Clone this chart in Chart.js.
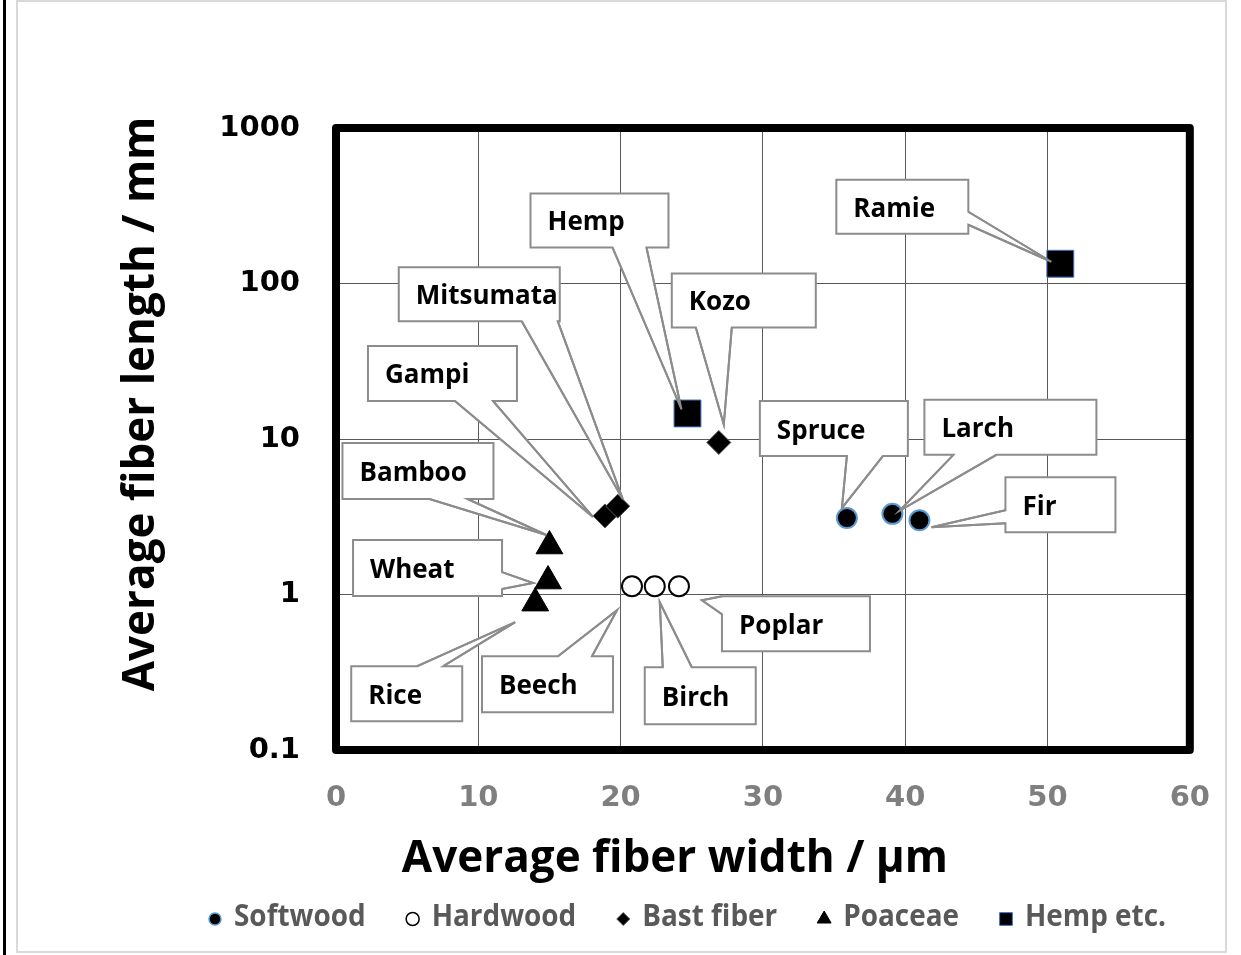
<!DOCTYPE html>
<html>
<head>
<meta charset="utf-8">
<script src="https://cdn.jsdelivr.net/npm/chart.js@4"></script>
<style>
  body { margin: 0; background: #fff; }
  #wrap { width: 1241px; height: 955px; }
</style>
</head>
<body>
<div id="wrap"><canvas id="myChart" width="1241" height="955"></canvas></div>
<script>
// values (x: width in um, y: length in mm)
const seriesNames = ['Softwood', 'Hardwood', 'Bast fiber', 'Poaceae', 'Hemp etc.'];

const softwoodNames = ['Spruce', 'Larch', 'Fir'];
const softwoodWidth = [35.9, 39.1, 41.0];
const softwoodLength = [3.1, 3.3, 3.0];

const hardwoodNames = ['Beech', 'Birch', 'Poplar'];
const hardwoodWidth = [20.8, 22.4, 24.1];
const hardwoodLength = [1.13, 1.13, 1.13];

const bastNames = ['Gampi', 'Mitsumata', 'Kozo'];
const bastWidth = [18.9, 19.8, 26.9];
const bastLength = [3.2, 3.7, 9.5];

const poaceaeNames = ['Rice', 'Wheat', 'Bamboo'];
const poaceaeWidth = [14.0, 14.9, 15.0];
const poaceaeLength = [0.88, 1.22, 2.05];

const hempNames = ['Hemp', 'Ramie'];
const hempWidth = [24.7, 50.9];
const hempLength = [14.6, 134];

const xTicks = [0, 10, 20, 30, 40, 50, 60];
const yTicks = [0.1, 1, 10, 100, 1000];
const yTickLabels = ['0.1', '1', '10', '100', '1000'];

const xTitle = 'Average fiber width / μm';
const yTitle = 'Average fiber length / mm';

// callout boxes: offset of box from the point, box size, wedge side + base positions, tip offset
const callouts = {
  Ramie:     { dx: -224, dy: -84,  w: 132, h: 54, side: 'right',  a: 32, b: 45,  tx: -9,  ty: -2 },
  Hemp:      { dx: -157, dy: -220, w: 138, h: 54, side: 'bottom', a: 82, b: 116, tx: -6,  ty: -4 },
  Kozo:      { dx: -47,  dy: -169, w: 144, h: 54, side: 'bottom', a: 24, b: 60,  tx: 5,   ty: -18 },
  Mitsumata: { dx: -219, dy: -239, w: 161, h: 54, side: 'bottom', a: 123, b: 159, tx: 5,  ty: -7 },
  Gampi:     { dx: -237, dy: -170, w: 149, h: 55, side: 'bottom', a: 87, b: 125, tx: -12, ty: 1 },
  Bamboo:    { dx: -207, dy: -103, w: 151, h: 56, side: 'bottom', a: 87, b: 125, tx: -3,  ty: -11 },
  Wheat:     { dx: -195, dy: -41,  w: 149, h: 56, side: 'right',  a: 32, b: 49,  tx: -15, ty: 2 },
  Rice:      { dx: -184, dy: 63,   w: 111, h: 55, side: 'top',    a: 66, b: 92,  tx: -20, ty: 19 },
  Beech:     { dx: -150, dy: 70,   w: 131, h: 56, side: 'top',    a: 76, b: 110, tx: -15, ty: 24 },
  Birch:     { dx: -10,  dy: 81,   w: 111, h: 57, side: 'top',    a: 18, b: 47,  tx: 5,   ty: 16 },
  Poplar:    { dx: 43,   dy: 10,   w: 148, h: 55, side: 'left',   a: 0,  b: 18,  tx: 23,  ty: 14 },
  Spruce:    { dx: -87,  dy: -117, w: 148, h: 55, side: 'bottom', a: 87, b: 123, tx: -5,  ty: -10 },
  Larch:     { dx: 32,   dy: -114, w: 172, h: 55, side: 'bottom', a: 29, b: 72,  tx: 7,   ty: -3 },
  Fir:       { dx: 86,   dy: -43,  w: 110, h: 55, side: 'left',   a: 33, b: 46,  tx: 12,  ty: 7 }
};

function pts(xs, ys) {
  return xs.map((x, i) => ({ x: x, y: ys[i] }));
}

function calloutPath(ctx, px, py, c) {
  const L = px + c.dx, T = py + c.dy, R = L + c.w, B = T + c.h;
  const tx = px + c.tx, ty = py + c.ty;
  ctx.beginPath();
  ctx.moveTo(L, T);
  if (c.side === 'top') { ctx.lineTo(L + c.a, T); ctx.lineTo(tx, ty); ctx.lineTo(L + c.b, T); }
  ctx.lineTo(R, T);
  if (c.side === 'right') { ctx.lineTo(R, T + c.a); ctx.lineTo(tx, ty); ctx.lineTo(R, T + c.b); }
  ctx.lineTo(R, B);
  if (c.side === 'bottom') { ctx.lineTo(L + c.b, B); ctx.lineTo(tx, ty); ctx.lineTo(L + c.a, B); }
  ctx.lineTo(L, B);
  if (c.side === 'left') { ctx.lineTo(L, T + c.b); ctx.lineTo(tx, ty); ctx.lineTo(L, T + c.a); }
  ctx.closePath();
}

function wedgeBase(px, py, c) {
  const L = px + c.dx, T = py + c.dy;
  if (c.side === 'top') return [[L + c.a, T], [L + c.b, T]];
  if (c.side === 'bottom') return [[L + c.a, T + c.h], [L + c.b, T + c.h]];
  if (c.side === 'left') return [[L, T + c.a], [L, T + c.b]];
  return [[L + c.w, T + c.a], [L + c.w, T + c.b]];
}

function eachLabel(chart, fn) {
  chart.data.datasets.forEach((ds, i) => {
    chart.getDatasetMeta(i).data.forEach((el, j) => {
      const c = callouts[ds.names[j]];
      if (c) fn(ds.names[j], el.x, el.y, c);
    });
  });
}

const framePlugin = {
  id: 'frame',
  beforeDraw(chart) {
    const ctx = chart.ctx;
    ctx.save();
    ctx.fillStyle = '#fff';
    ctx.fillRect(0, 0, chart.width, chart.height);
    ctx.strokeStyle = '#d9d9d9';
    ctx.lineWidth = 2;
    ctx.strokeRect(17, 1, 1209, 951);
    ctx.strokeStyle = '#000';
    ctx.lineWidth = 3;
    ctx.beginPath();
    ctx.moveTo(4.5, 0);
    ctx.lineTo(4.5, chart.height);
    ctx.stroke();
    ctx.restore();
  }
};

const calloutPlugin = {
  id: 'callouts',
  beforeDatasetsDraw(chart) {
    const ctx = chart.ctx;
    const a = chart.chartArea;
    ctx.save();
    // thick plot border
    ctx.strokeStyle = '#000';
    ctx.lineWidth = 8;
    ctx.lineJoin = 'round';
    ctx.strokeRect(a.left, a.top, a.right - a.left, a.bottom - a.top);
    // label boxes
    ctx.lineWidth = 2;
    ctx.lineJoin = 'miter';
    ctx.strokeStyle = '#8c8c8c';
    ctx.fillStyle = '#fff';
    eachLabel(chart, (name, px, py, c) => {
      calloutPath(ctx, px, py, c);
      ctx.fill();
      ctx.stroke();
    });
    ctx.fillStyle = '#000';
    ctx.font = 'bold 26px "Open Sans"';
    ctx.textAlign = 'left';
    ctx.textBaseline = 'alphabetic';
    eachLabel(chart, (name, px, py, c) => {
      ctx.fillText(name, px + c.dx + 17, py + c.dy + c.h / 2 + 10);
    });
    ctx.restore();
  },
  afterDatasetsDraw(chart) {
    const ctx = chart.ctx;
    ctx.save();
    ctx.strokeStyle = '#8c8c8c';
    ctx.lineWidth = 2;
    eachLabel(chart, (name, px, py, c) => {
      const base = wedgeBase(px, py, c);
      ctx.beginPath();
      ctx.moveTo(base[0][0], base[0][1]);
      ctx.lineTo(px + c.tx, py + c.ty);
      ctx.lineTo(base[1][0], base[1][1]);
      ctx.stroke();
    });
    ctx.restore();
  }
};

const titlePlugin = {
  id: 'titles',
  afterDraw(chart) {
    const ctx = chart.ctx;
    const a = chart.chartArea;
    ctx.save();
    ctx.fillStyle = '#000';
    ctx.font = 'bold 44px "Open Sans"';
    ctx.textAlign = 'center';
    ctx.textBaseline = 'alphabetic';
    ctx.fillText(xTitle, a.left + (a.right - a.left) / 2 - 88, 872);
    ctx.translate(a.left - 182, a.top + 276);
    ctx.rotate(-Math.PI / 2);
    ctx.fillText(yTitle, 0, 0);
    ctx.restore();

    // legend, drawn from the dataset styles
    ctx.save();
    ctx.font = 'bold 30px "Open Sans"';
    ctx.textBaseline = 'middle';
    ctx.fillStyle = '#595959';
    const ly = 917;
    let x = 215;
    chart.data.datasets.forEach(ds => {
      ctx.save();
      ctx.fillStyle = ds.backgroundColor;
      ctx.strokeStyle = ds.borderColor;
      ctx.lineWidth = Math.min(ds.borderWidth, 1.5);
      Chart.helpers.drawPoint(ctx, { pointStyle: ds.pointStyle, radius: ds.legendRadius, borderWidth: ctx.lineWidth }, x, ly + 2);
      ctx.restore();
      ctx.save();
      ctx.translate(x + 19, ly);
      ctx.scale(0.93, 1);
      ctx.fillText(ds.label, 0, 0);
      const w = ctx.measureText(ds.label).width * 0.93;
      ctx.restore();
      x += 19 + w + 47;
    });
    ctx.restore();
  }
};

const ctx = document.getElementById('myChart').getContext('2d');
const myChart = new Chart(ctx, {
  type: 'scatter',
  data: {
    datasets: [
      {
        label: seriesNames[0], names: softwoodNames,
        data: pts(softwoodWidth, softwoodLength),
        pointStyle: 'circle', pointRadius: 10, legendRadius: 6,
        backgroundColor: '#000', borderColor: '#5b9bd5', borderWidth: 2
      },
      {
        label: seriesNames[1], names: hardwoodNames,
        data: pts(hardwoodWidth, hardwoodLength),
        pointStyle: 'circle', pointRadius: 10, legendRadius: 6.5,
        backgroundColor: '#fff', borderColor: '#000', borderWidth: 2
      },
      {
        label: seriesNames[2], names: bastNames,
        data: pts(bastWidth, bastLength),
        pointStyle: 'rectRot', pointRadius: 12, legendRadius: 6.5,
        backgroundColor: '#000', borderColor: '#595959', borderWidth: 1
      },
      {
        label: seriesNames[3], names: poaceaeNames,
        data: pts(poaceaeWidth, poaceaeLength),
        pointStyle: 'triangle', pointRadius: 15.5, legendRadius: 8,
        backgroundColor: '#000', borderColor: '#000', borderWidth: 1
      },
      {
        label: seriesNames[4], names: hempNames,
        data: pts(hempWidth, hempLength),
        pointStyle: 'rect', pointRadius: 19, legendRadius: 9,
        backgroundColor: '#000', borderColor: '#4472c4', borderWidth: 1
      }
    ]
  },
  options: {
    responsive: false,
    animation: false,
    layout: { padding: { left: 0, top: 128, right: 51, bottom: 0 } },
    plugins: {
      legend: { display: false },
      tooltip: { enabled: false }
    },
    scales: {
      x: {
        type: 'linear',
        min: 0,
        max: 60,
        afterBuildTicks: s => { s.ticks = xTicks.map(v => ({ value: v })); },
        afterFit: s => { s.height = 205; },
        border: { display: false },
        grid: { color: '#595959', lineWidth: 1, drawTicks: false },
        ticks: {
          padding: 31,
          color: '#7f7f7f',
          font: { family: 'DejaVu Sans', weight: 'bold', size: 29 }
        }
      },
      y: {
        type: 'logarithmic',
        min: 0.1,
        max: 1000,
        afterBuildTicks: s => { s.ticks = yTicks.map(v => ({ value: v })); },
        afterFit: s => { s.width = 336; },
        border: { display: false },
        grid: { color: '#595959', lineWidth: 1, drawTicks: false },
        ticks: {
          padding: 36,
          color: '#000',
          font: { family: 'DejaVu Sans', weight: 'bold', size: 29 },
          callback: (v) => yTickLabels[yTicks.indexOf(v)]
        }
      }
    }
  },
  plugins: [framePlugin, calloutPlugin, titlePlugin]
});
</script>
</body>
</html>
